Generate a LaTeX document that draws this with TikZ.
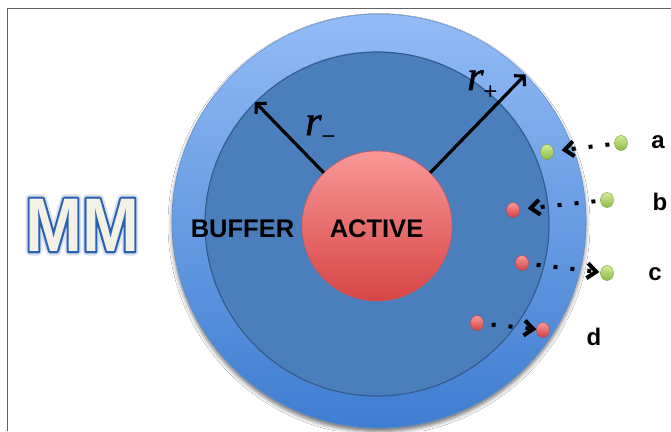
\documentclass[tikz,border=0pt]{standalone}
\usepackage{fontspec}
\setmainfont{Liberation Serif}
\newfontfamily\lsans{Liberation Sans}
\newfontfamily\rserif[FakeBold=1.2]{Liberation Serif}
\usetikzlibrary{arrows.meta,shapes.geometric,shadows.blur}
\definecolor{outerTop}{HTML}{93BBF7}
\definecolor{outerBot}{HTML}{3E7DD0}
\definecolor{outerLine}{HTML}{5E8FCF}
\definecolor{innerFill}{HTML}{4B7EBC}
\definecolor{innerLine}{HTML}{335C8E}
\definecolor{actTop}{HTML}{F99898}
\definecolor{actBot}{HTML}{D64444}
\definecolor{actLine}{HTML}{C85A5A}
\definecolor{mmFill}{HTML}{F3F0E6}
\definecolor{grTop}{HTML}{D2EC98}
\definecolor{grBot}{HTML}{8CB842}
\definecolor{grLine}{HTML}{7A9E3A}
\definecolor{rdTop}{HTML}{F89A9A}
\definecolor{rdBot}{HTML}{D44040}
\definecolor{rdLine}{HTML}{B84040}
\tikzset{
  gdot/.style={ellipse, minimum width=13pt, minimum height=15pt, inner sep=0pt,
    top color=grTop, bottom color=grBot, draw=grLine, line width=0.4pt},
  rdot/.style={ellipse, minimum width=13pt, minimum height=15pt, inner sep=0pt,
    top color=rdTop, bottom color=rdBot, draw=rdLine, line width=0.4pt},
  radarrow/.style={line width=3.2pt, -{Straight Barb[length=7pt,width=15pt]}},
  movearrow/.style={line width=4pt, dash pattern=on 4pt off 13pt,
    -{Straight Barb[length=9pt,width=15pt]}},
  boldlabel/.style={font=\lsans\bfseries\fontsize{25.5}{25.5}\selectfont, inner sep=0pt},
  letterlabel/.style={font=\lsans\bfseries\fontsize{24}{24}\selectfont, inner sep=0pt},
  rlabel/.style={font=\rserif\fontsize{42}{42}\selectfont\itshape, inner sep=0pt, anchor=base west},
  mmtext/.style={inner sep=0pt, font=\lsans\bfseries\fontsize{76}{76}\selectfont}
}
\begin{document}
\begin{tikzpicture}[x=1pt,y=-1pt]
\useasboundingbox (0,0) rectangle (671,431);
\fill[white] (0,0) rectangle (671,431);
\draw[gray!75!black, line width=1.6pt] (7.5,431) -- (7.5,8.5) -- (671,8.5);

\node[circle, minimum size=414pt, inner sep=0pt, top color=outerTop, bottom color=outerBot,
  draw=outerLine, line width=0.6pt,
  blur shadow={shadow xshift=0pt, shadow yshift=-3.5pt, shadow blur radius=4pt, shadow opacity=55}]
  (outer) at (379,221) {};
\node[circle, minimum size=344pt, inner sep=0pt, fill=innerFill, draw=innerLine, line width=1.2pt]
  (inner) at (377,224) {};
\node[circle, minimum size=150pt, inner sep=0pt, top color=actTop, bottom color=actBot,
  draw=actLine, line width=0.6pt] (act) at (377,226) {};

\node[boldlabel] (buffer) at (242.5,229) {BUFFER};
\node[boldlabel] (active) at (376.5,229) {ACTIVE};

\draw[radarrow] (act.135) -- (inner.135);
\draw[radarrow] (act.45) -- (outer.45);
\node[rlabel] (rminus) at (305,135) {r\raisebox{-9pt}{\upshape\fontsize{24}{24}\selectfont −}};
\node[rlabel] (rplus) at (467,90) {r\raisebox{-9pt}{\upshape\fontsize{24}{24}\selectfont +}};

% particles
\node[gdot] (sa) at (547,152) {};
\node[gdot] (ga) at (621,143) {};
\node[rdot] (rb) at (513,210) {};
\node[gdot] (gb) at (607,200) {};
\node[rdot] (rc) at (522,263) {};
\node[gdot] (gc) at (607,273) {};
\node[rdot] (rd) at (477,323) {};
\node[rdot] (sd) at (543,330) {};

\draw[movearrow, shorten <=5pt, shorten >=8pt] (ga) -- (sa);
\draw[movearrow, shorten <=5pt, shorten >=8pt] (gb) -- (rb);
\draw[movearrow, shorten <=8pt, shorten >=1pt] (rc) -- (gc);
\draw[movearrow, shorten <=8pt, shorten >=0pt] (rd) -- (sd);

\node[letterlabel] (la) at (658,142) {a};
\node[letterlabel] (lb) at (660,202) {b};
\node[letterlabel] (lc) at (655,274) {c};
\node[letterlabel] (ld) at (594,337) {d};

% MM: glow, outline, fill
\node[mmtext] (mmglow) at (82,225)
  {\scalebox{0.9}[1]{\special{pdf:literal 1 Tr 1 j 9 w 0.86 0.89 0.93 RG}MM\special{pdf:literal 0 Tr}}};
\node[mmtext] (mmline) at (82,225)
  {\scalebox{0.9}[1]{\special{pdf:literal 1 Tr 1 j 4.6 w 0.17 0.38 0.70 RG}MM\special{pdf:literal 0 Tr}}};
\node[mmtext, text=mmFill] (mm) at (82,225) {\scalebox{0.9}[1]{MM}};
\end{tikzpicture}
\end{document}
